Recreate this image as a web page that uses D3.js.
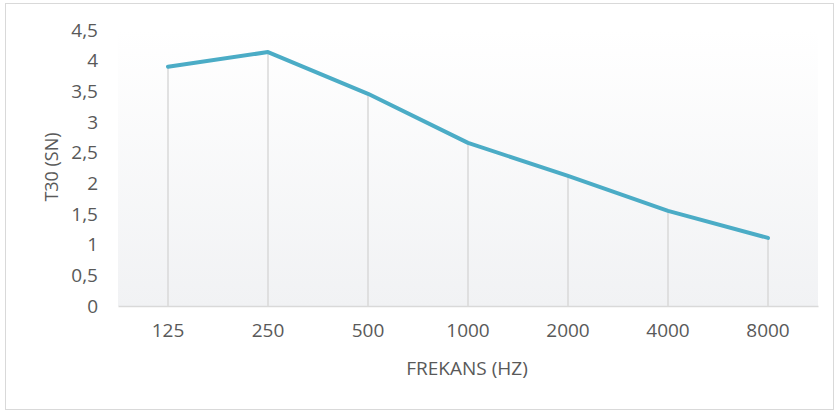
<!DOCTYPE html>
<html>
<head>
<meta charset="utf-8">
<script src="https://cdn.jsdelivr.net/npm/d3@7"></script>
<style>
  body { margin: 0; background: #fff; }
  text { font-family: "Open Sans", sans-serif; fill: #595959; }
</style>
</head>
<body>
<svg width="839" height="413"></svg>
<script>
// data
var frequencies = ["125", "250", "500", "1000", "2000", "4000", "8000"];
var t30 = [3.9, 4.14, 3.46, 2.66, 2.12, 1.55, 1.11];
var yTicks = [0, 0.5, 1, 1.5, 2, 2.5, 3, 3.5, 4, 4.5];

var data = frequencies.map(function(f, i) { return {freq: f, value: t30[i]}; });

var svg = d3.select("svg"),
    margin = {top: 30, right: 21, bottom: 107, left: 118},
    width = +svg.attr("width") - margin.left - margin.right,
    height = +svg.attr("height") - margin.top - margin.bottom;

// outer frame
svg.append("rect")
    .attr("x", 5.5).attr("y", 3.5)
    .attr("width", 828).attr("height", 406)
    .attr("fill", "#fff")
    .attr("stroke", "#d9d9d9");

var grad = svg.append("defs").append("linearGradient")
    .attr("id", "bg").attr("x1", 0).attr("y1", 0).attr("x2", 0).attr("y2", 1);
grad.append("stop").attr("offset", "0%").attr("stop-color", "#ffffff");
grad.append("stop").attr("offset", "100%").attr("stop-color", "#f1f2f4");

var x = d3.scaleBand().domain(frequencies).range([0, width]),
    y = d3.scaleLinear().domain([0, 4.5]).range([height, 0]);

var g = svg.append("g")
    .attr("transform", "translate(" + margin.left + "," + margin.top + ")");

g.append("rect")
    .attr("width", width).attr("height", height)
    .attr("fill", "url(#bg)");

// drop lines from each point to the axis
g.selectAll(".drop")
  .data(data)
  .enter().append("line")
    .attr("x1", function(d) { return x(d.freq) + x.bandwidth() / 2; })
    .attr("x2", function(d) { return x(d.freq) + x.bandwidth() / 2; })
    .attr("y1", function(d) { return y(d.value); })
    .attr("y2", height)
    .attr("stroke", "#d9d9d9")
    .attr("stroke-width", 1.5);

// x axis
var xAxis = g.append("g")
    .attr("transform", "translate(0," + height + ")")
    .call(d3.axisBottom(x).tickSize(0).tickPadding(18));
xAxis.select(".domain").attr("stroke", "#d9d9d9").attr("stroke-width", 1.5);
xAxis.selectAll("text").style("font-size", "19px").attr("fill", "#595959");

// y axis, no line
var yAxis = g.append("g")
    .call(d3.axisLeft(y).tickValues(yTicks).tickSize(0).tickPadding(20)
      .tickFormat(function(d) { return String(d).replace(".", ","); }));
yAxis.select(".domain").remove();
yAxis.selectAll("text").style("font-size", "19px").attr("fill", "#595959");

// the line
var line = d3.line()
    .x(function(d) { return x(d.freq) + x.bandwidth() / 2; })
    .y(function(d) { return y(d.value); });

g.append("path")
    .datum(data)
    .attr("d", line)
    .attr("fill", "none")
    .attr("stroke", "#4bacc6")
    .attr("stroke-width", 4)
    .attr("stroke-linejoin", "round")
    .attr("stroke-linecap", "round");

// axis titles
svg.append("text")
    .attr("x", 467).attr("y", 375)
    .attr("text-anchor", "middle")
    .style("font-size", "19px")
    .text("FREKANS (HZ)");

svg.append("text")
    .attr("transform", "translate(58,167) rotate(-90)")
    .attr("text-anchor", "middle")
    .style("font-size", "18px")
    .text("T30 (SN)");
</script>
</body>
</html>
